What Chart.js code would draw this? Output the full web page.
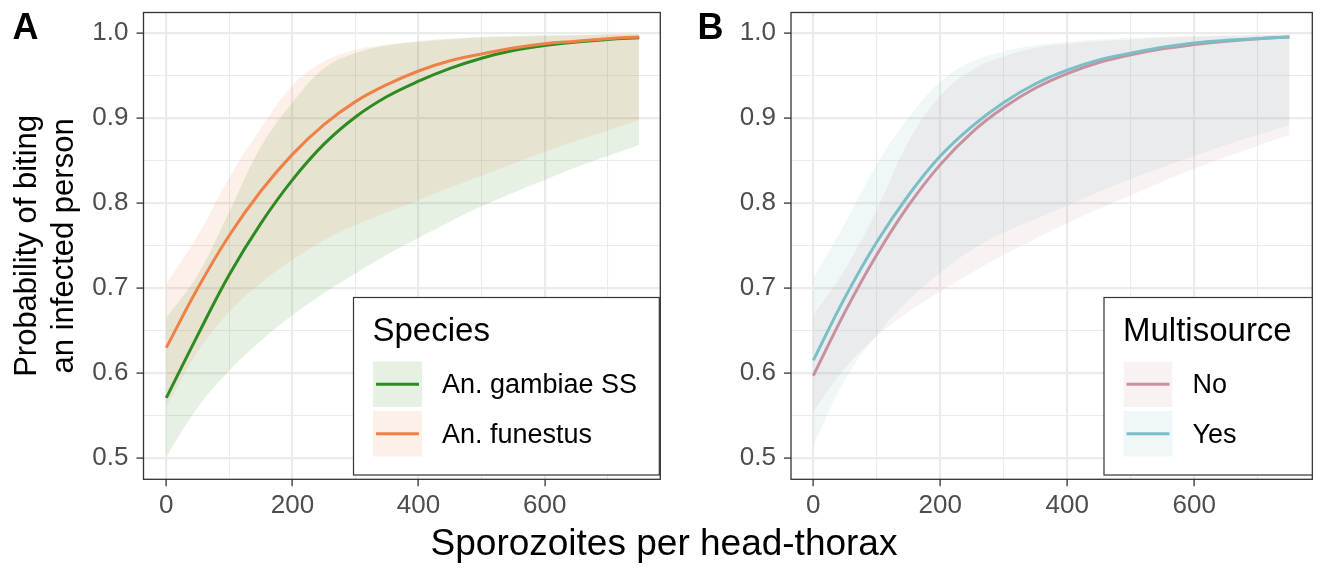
<!DOCTYPE html>
<html>
<head>
<meta charset="utf-8">
<script src="https://cdn.jsdelivr.net/npm/chart.js@4.4.1/dist/chart.umd.min.js"></script>
<style>
  html, body { margin: 0; padding: 0; background: #fff; }
  #wrap { position: relative; width: 1322px; height: 569px; }
  #wrap canvas { position: absolute; left: 0; top: 0; }
</style>
</head>
<body>
<div id="wrap">
  <canvas id="panelA" width="1322" height="569"></canvas>
  <canvas id="panelB" width="1322" height="569"></canvas>
</div>
<script>
// ---- data ----
const sporozoites = [0, 50, 100, 150, 200, 250, 300, 350, 400, 450, 500, 550, 600, 650, 700, 750];

// Panel A: species
const gambiaeFit   = [0.571, 0.645, 0.716, 0.776, 0.827, 0.869, 0.901, 0.925, 0.943, 0.958, 0.970, 0.979, 0.985, 0.989, 0.992, 0.994];
const gambiaeLower = [0.502, 0.560, 0.603, 0.638, 0.668, 0.694, 0.717, 0.739, 0.759, 0.778, 0.796, 0.812, 0.827, 0.842, 0.855, 0.868];
const gambiaeUpper = [0.665, 0.716, 0.790, 0.866, 0.918, 0.958, 0.976, 0.985, 0.990, 0.993, 0.995, 0.996, 0.997, 0.997, 0.998, 0.998];
const funestusFit   = [0.630, 0.700, 0.762, 0.814, 0.857, 0.892, 0.919, 0.939, 0.955, 0.967, 0.975, 0.982, 0.987, 0.990, 0.993, 0.995];
const funestusLower = [0.560, 0.625, 0.672, 0.706, 0.733, 0.756, 0.774, 0.789, 0.803, 0.818, 0.832, 0.846, 0.860, 0.873, 0.885, 0.897];
const funestusUpper = [0.705, 0.762, 0.830, 0.888, 0.938, 0.966, 0.980, 0.986, 0.989, 0.992, 0.994, 0.995, 0.996, 0.997, 0.998, 0.998];

// Panel B: multisource
const noFit   = [0.597, 0.672, 0.739, 0.797, 0.845, 0.883, 0.912, 0.935, 0.952, 0.965, 0.974, 0.981, 0.986, 0.990, 0.993, 0.995];
const noLower = [0.555, 0.606, 0.643, 0.672, 0.696, 0.718, 0.739, 0.758, 0.776, 0.793, 0.809, 0.825, 0.840, 0.854, 0.867, 0.880];
const noUpper = [0.668, 0.722, 0.792, 0.872, 0.926, 0.956, 0.972, 0.982, 0.987, 0.990, 0.992, 0.994, 0.995, 0.996, 0.997, 0.998];
const yesFit   = [0.615, 0.689, 0.754, 0.809, 0.855, 0.890, 0.918, 0.940, 0.956, 0.968, 0.976, 0.983, 0.988, 0.991, 0.993, 0.995];
const yesLower = [0.515, 0.592, 0.645, 0.686, 0.718, 0.745, 0.765, 0.781, 0.797, 0.813, 0.828, 0.842, 0.855, 0.868, 0.880, 0.891];
const yesUpper = [0.711, 0.776, 0.845, 0.900, 0.942, 0.966, 0.978, 0.985, 0.989, 0.992, 0.994, 0.995, 0.996, 0.997, 0.997, 0.998];

// axes
const xGrid = [0, 100, 200, 300, 400, 500, 600, 700];
const xTickLabels = [0, 200, 400, 600];
const yGrid = [0.5, 0.55, 0.6, 0.65, 0.7, 0.75, 0.8, 0.85, 0.9, 0.95, 1.0];
const yTickLabels = ["0.5", "0.6", "0.7", "0.8", "0.9", "1.0"];

const FONT = "'Liberation Sans', Arial, Helvetica, sans-serif";

function toPoints(ys) {
  return ys.map((y, i) => ({ x: sporozoites[i], y: y }));
}

function rgba(hex, a) {
  const n = parseInt(hex.slice(1), 16);
  return `rgba(${(n >> 16) & 255},${(n >> 8) & 255},${n & 255},${a})`;
}

const isMajorX = v => xTickLabels.includes(v);
const isMajorY = v => Math.abs(v * 10 - Math.round(v * 10)) < 1e-6;

// draws panel border, legend and free text
const decor = {
  id: "decor",
  afterDatasetsDraw(chart, args, o) {
    const { ctx, chartArea: a } = chart;
    ctx.save();
    ctx.strokeStyle = "#333333";
    ctx.lineWidth = 1.3;
    ctx.strokeRect(a.left, a.top, a.right - a.left, a.bottom - a.top);
    ctx.restore();
  },
  afterDraw(chart, args, o) {
    const ctx = chart.ctx;
    const lg = o.legend;
    ctx.save();
    // legend box
    ctx.fillStyle = "#fff";
    ctx.fillRect(lg.x, lg.y, lg.w, lg.h);
    ctx.strokeStyle = "#333333";
    ctx.lineWidth = 1.2;
    ctx.strokeRect(lg.x, lg.y, lg.w, lg.h);
    ctx.fillStyle = "#000";
    ctx.font = `33px ${FONT}`;
    ctx.textBaseline = "alphabetic";
    ctx.fillText(lg.title, lg.x + 19, lg.y + 43);
    lg.items.forEach((it, i) => {
      const ky = lg.y + 64 + i * 49.5;
      const kx = lg.x + 19.5;
      ctx.fillStyle = "#fff";
      ctx.fillRect(kx, ky, 49, 45.5);
      ctx.fillStyle = rgba(it.color, 0.12);
      ctx.fillRect(kx, ky, 49, 45.5);
      ctx.strokeStyle = it.color;
      ctx.lineWidth = 3;
      ctx.beginPath();
      ctx.moveTo(kx + 3, ky + 22.7);
      ctx.lineTo(kx + 46, ky + 22.7);
      ctx.stroke();
      ctx.fillStyle = "#000";
      ctx.font = `27px ${FONT}`;
      ctx.textBaseline = "alphabetic";
      ctx.fillText(it.label, lg.x + 88.5, ky + 31.8);
    });
    // panel tag
    ctx.font = `bold 36px ${FONT}`;
    ctx.fillStyle = "#000";
    ctx.fillText(o.tag.text, o.tag.x, 39.3);
    if (o.xTitle) {
      ctx.font = `37px ${FONT}`;
      ctx.textAlign = "center";
      ctx.fillText(o.xTitle, 664, 555);
    }
    ctx.restore();
  }
};

function makePanel(id, series, geo, legendTitle, tag, yTitle, xTitle) {
  const lines = [];
  const bands = [];
  // datasets are painted last-to-first, so later series go first
  series.slice().reverse().forEach(s => {
    lines.push({
      data: toPoints(s.fit), borderColor: s.color, borderWidth: 3,
      pointRadius: 0, fill: false, tension: 0.4
    });
  });
  series.slice().reverse().forEach(s => {
    bands.push({
      data: toPoints(s.upper), borderWidth: 0, borderColor: "rgba(0,0,0,0)",
      backgroundColor: rgba(s.color, 0.12), pointRadius: 0,
      fill: "+1", tension: 0.4
    });
    bands.push({
      data: toPoints(s.lower), borderWidth: 0, borderColor: "rgba(0,0,0,0)",
      pointRadius: 0, fill: false, tension: 0.4
    });
  });

  const gridOpts = (major) => ({
    color: "#ebebeb",
    lineWidth: c => (c.tick && major(c.tick.value)) ? 2.2 : 1.1,
    tickLength: 7,
    tickWidth: 1.3,
    tickColor: c => (c.tick && major(c.tick.value)) ? "#333333" : "rgba(0,0,0,0)"
  });

  return new Chart(document.getElementById(id), {
    type: "line",
    data: { datasets: lines.concat(bands) },
    options: {
      responsive: false,
      animation: false,
      events: [],
      layout: { padding: { left: geo.padLeft, right: 1322 - geo.right, top: 12.5, bottom: 0 } },
      plugins: {
        legend: { display: false },
        tooltip: { enabled: false },
        decor: {
          legend: { x: geo.legX, y: 297.5, w: geo.legW, h: 177.5, title: legendTitle,
                    items: series.map(s => ({ label: s.label, color: s.color })) },
          tag: tag,
          xTitle: xTitle
        }
      },
      scales: {
        x: {
          type: "linear", min: geo.xMin, max: geo.xMax,
          afterBuildTicks: s => { s.ticks = xGrid.map(v => ({ value: v })); },
          afterFit: s => { s.height = 569 - 479.3; s.paddingLeft = 0; s.paddingRight = 0; },
          border: { display: false },
          grid: gridOpts(isMajorX),
          ticks: {
            autoSkip: false, maxRotation: 0, padding: 4, color: "#4d4d4d",
            font: { family: FONT, size: 26 },
            callback: v => isMajorX(v) ? String(v) : ""
          }
        },
        y: {
          type: "linear", min: 0.4753, max: 1.0237,
          afterBuildTicks: s => { s.ticks = yGrid.map(v => ({ value: v })); },
          afterFit: s => { s.width = geo.yWidth; s.paddingTop = 0; s.paddingBottom = 0; },
          border: { display: false },
          grid: gridOpts(isMajorY),
          ticks: {
            autoSkip: false, padding: 8, color: "#4d4d4d",
            font: { family: FONT, size: 26 },
            callback: v => isMajorY(v) ? yTickLabels[Math.round((v - 0.5) * 10)] : ""
          },
          title: yTitle ? {
            display: true, text: yTitle, color: "#000",
            font: { family: FONT, size: 31, lineHeight: 1.2 },
            padding: { top: 9, bottom: 0 }
          } : { display: false }
        }
      }
    },
    plugins: [decor]
  });
}

makePanel("panelA", [
  { label: "An. gambiae SS", fit: gambiaeFit, lower: gambiaeLower, upper: gambiaeUpper, color: "#2E8B22" },
  { label: "An. funestus", fit: funestusFit, lower: funestusLower, upper: funestusUpper, color: "#EF8046" }
], { padLeft: 0, yWidth: 143.5, right: 660.3, xMin: -36.2, xMax: 783.4, legX: 353.5, legW: 305.8 },
  "Species", { text: "A", x: 12.5 }, ["Probability of biting", "an infected person"], "Sporozoites per head-thorax");

makePanel("panelB", [
  { label: "No", fit: noFit, lower: noLower, upper: noUpper, color: "#C8919E" },
  { label: "Yes", fit: yesFit, lower: yesLower, upper: yesUpper, color: "#7ABFC7" }
], { padLeft: 665, yWidth: 126, right: 1312.3, xMin: -35.1, xMax: 786, legX: 1104, legW: 208.3 },
  "Multisource", { text: "B", x: 697.5 }, null, null);
</script>
</body>
</html>
